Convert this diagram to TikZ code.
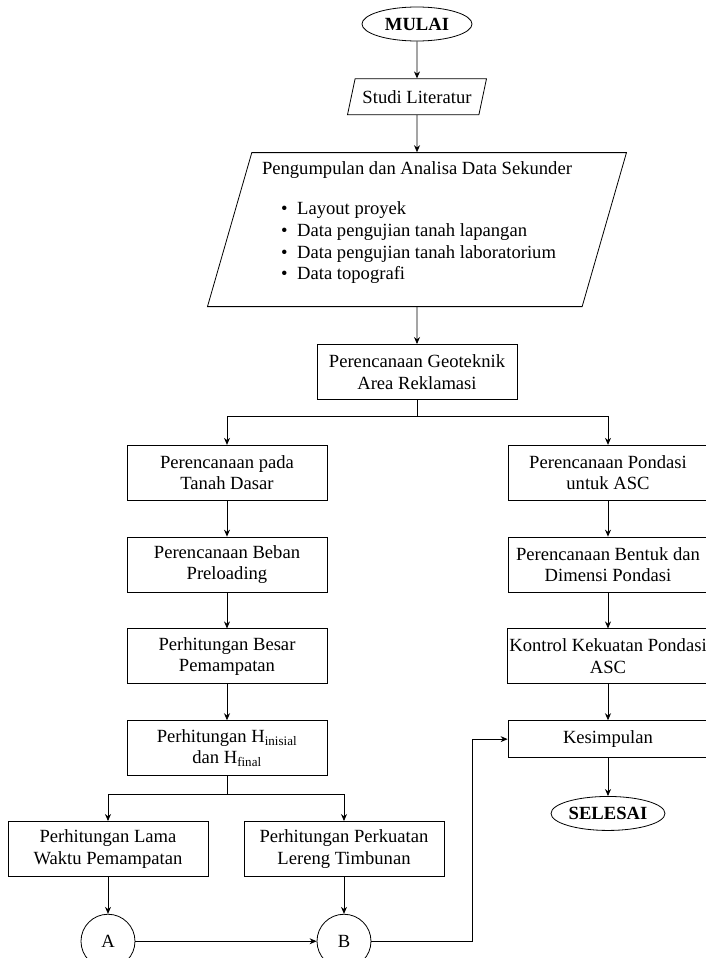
\documentclass[tikz,border=0pt]{standalone}
\usepackage{fontspec}
\setmainfont{Liberation Serif}
\usetikzlibrary{shapes.geometric, arrows.meta, positioning}

\begin{document}
\begin{tikzpicture}[
    line width=0.8pt,
    font=\fontsize{18.6}{21.6}\selectfont,
    node distance=37pt,
    proses/.style={rectangle, draw, minimum width=200pt, minimum height=55pt, align=center, inner sep=2pt},
    terminal/.style={ellipse, draw, minimum width=110pt, minimum height=34pt, inner sep=1pt, font=\fontsize{18.6}{21.6}\selectfont\bfseries},
    inout/.style={trapezium, draw, trapezium stretches body, align=center, inner sep=2pt},
    konektor/.style={circle, draw, minimum size=54pt, inner sep=0pt},
    arrow/.style={->, >={Stealth[length=7pt, width=6pt]}}
]

\useasboundingbox (-417pt,24pt) rectangle (288pt,-934pt);

\node[terminal] (mulai) {MULAI};
\node[inout, below=of mulai, trapezium left angle=66, trapezium right angle=114, minimum width=139pt, minimum height=36pt] (studi) {Studi Literatur};
\node[inout, below=of studi, trapezium left angle=73, trapezium right angle=107, minimum width=419pt, minimum height=154pt] (data) {%
    \begin{tabular}{@{}l@{}}
    \multicolumn{1}{@{}c@{}}{Pengumpulan dan Analisa Data Sekunder}\\[19pt]
    \hspace{19pt}\textbullet\hspace{9.7pt}Layout proyek\\
    \hspace{19pt}\textbullet\hspace{9.7pt}Data pengujian tanah lapangan\\
    \hspace{19pt}\textbullet\hspace{9.7pt}Data pengujian tanah laboratorium\\
    \hspace{19pt}\textbullet\hspace{9.7pt}Data topografi\\[14pt]
    \end{tabular}};
\node[proses, below=of data] (geo) {Perencanaan Geoteknik\\Area Reklamasi};

% kolom kiri
\node[proses, below=45pt of geo, xshift=-190pt] (tanah) {Perencanaan pada\\Tanah Dasar};
\node[proses, below=36pt of tanah] (beban) {Perencanaan Beban\\Preloading};
\node[proses, below=36pt of beban] (besar) {Perhitungan Besar\\Pemampatan};
\node[proses, below=36pt of besar] (hfin) {Perhitungan H\textsubscript{inisial}\\dan H\textsubscript{final}};
\node[proses, below=45pt of hfin, xshift=-119pt] (lama) {Perhitungan Lama\\Waktu Pemampatan};
\node[proses, below=45pt of hfin, xshift=117pt] (kuat) {Perhitungan Perkuatan\\Lereng Timbunan};
\node[konektor, below=of lama] (a) {A};
\node[konektor, below=of kuat] (b) {B};

% kolom kanan
\node[proses, below=45pt of geo, xshift=191pt] (pondasi) {Perencanaan Pondasi\\untuk ASC};
\node[proses, below=36pt of pondasi] (bentuk) {Perencanaan Bentuk dan\\Dimensi Pondasi};
\node[proses, below=36pt of bentuk] (kontrol) {Kontrol Kekuatan Pondasi\\ASC};
\node[proses, below=36pt of kontrol, minimum height=37pt] (simpul) {Kesimpulan};
\node[terminal, below=38pt of simpul] (selesai) {SELESAI};

\draw[arrow] (mulai) -- (studi);
\draw[arrow] (studi) -- (data);
\draw[arrow] (data) -- (geo);
\draw[arrow] (geo.south) -- ++(0,-17pt) -| (tanah);
\draw[arrow] (geo.south) -- ++(0,-17pt) -| (pondasi);

\draw[arrow] (tanah) -- (beban);
\draw[arrow] (beban) -- (besar);
\draw[arrow] (besar) -- (hfin);
\draw[arrow] (hfin.south) -- ++(0,-18pt) -| (lama);
\draw[arrow] (hfin.south) -- ++(0,-18pt) -| (kuat);
\draw[arrow] (lama) -- (a);
\draw[arrow] (kuat) -- (b);
\draw[arrow] (a) -- (b);
\draw[arrow] (b.east) -- ++(101pt,0) |- (simpul);

\draw[arrow] (pondasi) -- (bentuk);
\draw[arrow] (bentuk) -- (kontrol);
\draw[arrow] (kontrol) -- (simpul);
\draw[arrow] (simpul) -- (selesai);

\end{tikzpicture}
\end{document}
